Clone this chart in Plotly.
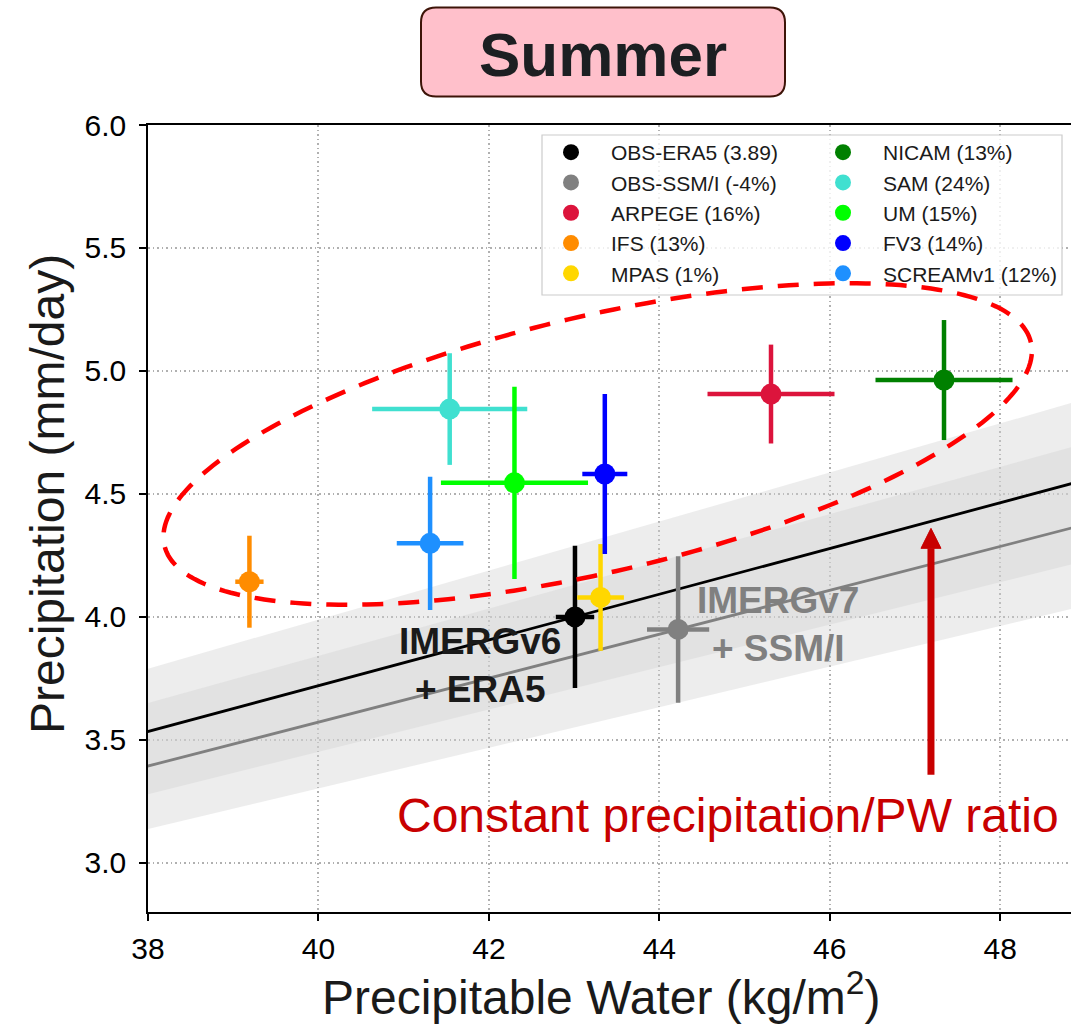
import numpy as np
import plotly.graph_objects as go

# ---------------- data ----------------
models = ["OBS-ERA5 (3.89)", "OBS-SSM/I (-4%)", "ARPEGE (16%)", "IFS (13%)", "MPAS (1%)",
          "NICAM (13%)", "SAM (24%)", "UM (15%)", "FV3 (14%)", "SCREAMv1 (12%)"]
colors = ["black", "gray", "crimson", "darkorange", "gold",
          "green", "turquoise", "lime", "blue", "dodgerblue"]
legend_col = ["legend", "legend", "legend", "legend", "legend",
              "legend2", "legend2", "legend2", "legend2", "legend2"]
pw = [43.01, 44.22, 45.31, 39.19, 43.31, 47.34, 41.54, 42.30, 43.36, 41.31]
pw_err = [0.225, 0.365, 0.745, 0.166, 0.274, 0.804, 0.91, 0.863, 0.264, 0.391]
pr = [4.000, 3.949, 4.906, 4.143, 4.079, 4.963, 4.845, 4.545, 4.581, 4.299]
pr_err = [0.289, 0.298, 0.201, 0.187, 0.217, 0.244, 0.227, 0.391, 0.325, 0.271]

x_ticks = [38, 40, 42, 44, 46, 48]
y_ticks = [3.0, 3.5, 4.0, 4.5, 5.0, 5.5, 6.0]

# ---------------- layout constants ----------------
W, H = 1071, 1024
ML, MT, MR, MB = 148, 125, 0, 112
X_RANGE = [38, 48.83]
Y_RANGE = [2.8, 6.0]
PLOT_W = W - ML - MR
PLOT_H = H - MT - MB
PX_X = PLOT_W / (X_RANGE[1] - X_RANGE[0])
PX_Y = PLOT_H / (Y_RANGE[1] - Y_RANGE[0])
FONT = "Liberation Sans, Arial, Helvetica, sans-serif"
DARKRED = "#c80000"


def paper_x(px):
    return (px - ML) / PLOT_W


def paper_y(py):
    return (H - MB - py) / PLOT_H


fig = go.Figure()

# ---------------- constant ratio lines with bands ----------------
x_line = np.array([36.0, 51.0])
for i in range(2):
    ratio = pr[i] / pw[i]
    rel = pr_err[i] / pr[i]
    fig.add_trace(go.Scatter(x=x_line, y=ratio * x_line * (1 + rel), mode="lines",
                             line=dict(width=0), showlegend=False, hoverinfo="skip"))
    fig.add_trace(go.Scatter(x=x_line, y=ratio * x_line * (1 - rel), mode="lines",
                             line=dict(width=0), fill="tonexty",
                             fillcolor="rgba(211,211,211,0.4)",
                             showlegend=False, hoverinfo="skip"))
for i, lc in enumerate(["black", "gray"]):
    ratio = pr[i] / pw[i]
    fig.add_trace(go.Scatter(x=x_line, y=ratio * x_line, mode="lines",
                             line=dict(color=lc, width=2.8), showlegend=False, hoverinfo="skip"))

# ---------------- model / obs points ----------------
for i in range(len(models)):
    fig.add_trace(go.Scatter(
        x=[pw[i]], y=[pr[i]], mode="markers", name=models[i], legend=legend_col[i],
        marker=dict(color=colors[i], size=21),
        error_x=dict(type="data", array=[pw_err[i]], color=colors[i], thickness=4.5, width=0),
        error_y=dict(type="data", array=[pr_err[i]], color=colors[i], thickness=4.5, width=0),
    ))

# ---------------- shapes ----------------
shapes = []
# legend frame
shapes.append(dict(type="rect", xref="paper", yref="paper",
                   x0=paper_x(542), x1=paper_x(1062), y0=paper_y(295), y1=paper_y(135),
                   fillcolor="rgba(255,255,255,0.8)", line=dict(color="#cccccc", width=1.2),
                   layer="above"))

# dashed ellipse (center in data units, semi-axes in pixels, angle in degrees)
ell_cx, ell_cy = 43.276, 4.703
ell_a, ell_b, ell_ang = 445.0, 128.0, 13.2
t = np.linspace(0, 2 * np.pi, 241)
th = np.deg2rad(ell_ang)
ex = ell_cx + (ell_a * np.cos(t) * np.cos(th) - ell_b * np.sin(t) * np.sin(th)) / PX_X
ey = ell_cy + (ell_a * np.cos(t) * np.sin(th) + ell_b * np.sin(t) * np.cos(th)) / PX_Y
ell_path = "M" + " L".join(f"{a:.4f},{b:.4f}" for a, b in zip(ex, ey)) + " Z"
shapes.append(dict(type="path", xref="x", yref="y", path=ell_path,
                   line=dict(color="red", width=4.5, dash="21px,15px"), layer="above"))

# red arrow
arr_x, arr_tip, arr_tail = 47.187, 4.36, 3.358
head_len, head_w = 20, 20
shapes.append(dict(type="line", xref="x", yref="y", x0=arr_x, x1=arr_x,
                   y0=arr_tail, y1=arr_tip - head_len / PX_Y,
                   line=dict(color=DARKRED, width=7), layer="above"))
shapes.append(dict(type="path", xref="x", yref="y", xsizemode="pixel", ysizemode="pixel",
                   xanchor=arr_x, yanchor=arr_tip,
                   path=f"M0,0 L{-head_w/2},{-head_len} L{head_w/2},{-head_len} Z",
                   fillcolor=DARKRED, line=dict(color=DARKRED, width=1), layer="above"))

# title box (rounded)
hw, hh, r = 182, 44.5, 15
title_path = (f"M{-hw+r},{-hh} L{hw-r},{-hh} Q{hw},{-hh} {hw},{-hh+r} L{hw},{hh-r} "
              f"Q{hw},{hh} {hw-r},{hh} L{-hw+r},{hh} Q{-hw},{hh} {-hw},{hh-r} "
              f"L{-hw},{-hh+r} Q{-hw},{-hh} {-hw+r},{-hh} Z")
shapes.append(dict(type="path", xref="paper", yref="paper", xsizemode="pixel", ysizemode="pixel",
                   xanchor=paper_x(603), yanchor=paper_y(52), path=title_path,
                   fillcolor="pink", line=dict(color="#3d1408", width=2)))

# ---------------- annotations ----------------
annotations = [
    dict(text="Summer", xref="paper", yref="paper", x=paper_x(603), y=paper_y(55),
         xanchor="center", yanchor="middle", showarrow=False,
         font=dict(family=FONT, size=62, color="#1c1f22", weight="bold")),
    dict(text="Precipitable Water (kg/m<sup>2</sup>)", xref="paper", yref="paper",
         x=paper_x(601), y=paper_y(994), xanchor="center", yanchor="middle", showarrow=False,
         font=dict(family=FONT, size=48, color="#1a1a1a")),
    dict(text="Precipitation (mm/day)", xref="paper", yref="paper", textangle=-90,
         x=paper_x(47), y=paper_y(494), xanchor="center", yanchor="middle", showarrow=False,
         font=dict(family=FONT, size=48, color="#1a1a1a")),
    dict(text="IMERGv6<br>+ ERA5", xref="x", yref="y", x=41.897, y=3.801,
         xanchor="center", yanchor="middle", showarrow=False, align="center",
         font=dict(family=FONT, size=37, color="#1a1a1a", weight="bold")),
    dict(text="IMERGv7<br>+ SSM/I", xref="x", yref="y", x=45.394, y=3.968,
         xanchor="center", yanchor="middle", showarrow=False, align="center",
         font=dict(family=FONT, size=37, color="gray", weight="bold")),
    dict(text="Constant precipitation/PW ratio", xref="x", yref="y", x=44.80, y=3.194,
         xanchor="center", yanchor="middle", showarrow=False,
         font=dict(family=FONT, size=48, color=DARKRED)),
]

axis_common = dict(showline=True, linecolor="black", linewidth=1.5,
                   ticks="outside", ticklen=7, tickwidth=1.5, tickcolor="black",
                   showgrid=True, gridcolor="#b0b0b0", gridwidth=1.5, griddash="1.5px,3px",
                   zeroline=False, tickfont=dict(family=FONT, size=30, color="black"))

legend_common = dict(xanchor="left", yanchor="top", bgcolor="rgba(0,0,0,0)", borderwidth=0,
                     font=dict(family=FONT, size=21, color="#1a1a1a"), itemwidth=70,
                     tracegroupgap=0, traceorder="normal")

fig.update_layout(
    width=W, height=H,
    margin=dict(l=ML, r=MR, t=MT, b=MB, pad=0),
    paper_bgcolor="white", plot_bgcolor="white",
    xaxis=dict(range=X_RANGE, tickvals=x_ticks, ticktext=[str(v) for v in x_ticks],
               mirror=True, ticklabelstandoff=2, **axis_common),
    yaxis=dict(range=Y_RANGE, tickvals=y_ticks, ticktext=[f"{v:.1f}" for v in y_ticks],
               ticklabelstandoff=7, **axis_common),
    legend=dict(x=paper_x(531), y=paper_y(132), **legend_common),
    legend2=dict(x=paper_x(803), y=paper_y(132), **legend_common),
    shapes=shapes,
    annotations=annotations,
    showlegend=True,
)

fig.write_html("out.html")
